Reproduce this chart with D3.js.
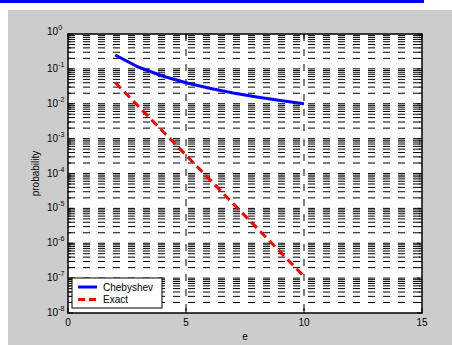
<!DOCTYPE html>
<html><head><meta charset="utf-8">
<script src="https://cdn.jsdelivr.net/npm/d3@7"></script>
<style>html,body{margin:0;padding:0;background:#fff;}svg{display:block;}</style>
</head><body>
<script>
const eValues = [2, 3, 4, 5, 6, 7, 8, 9, 10];
const chebyshev = [0.25, 0.1111, 0.0625, 0.04, 0.02778, 0.02041, 0.01563, 0.01235, 0.01];
const exact = [0.04076, 0.00823, 0.001662, 3.355e-4, 6.773e-5, 1.367e-5, 2.76e-6, 5.573e-7, 1.125e-7];
const xTicks = [0, 5, 10, 15];
const yExponents = [0, -1, -2, -3, -4, -5, -6, -7, -8];
const seriesNames = ["Chebyshev", "Exact"];

const W = 452, H = 345;
const L = 68, R = 422, T = 34, B = 313;
const svg = d3.select("body").append("svg").attr("width", W).attr("height", H);

svg.append("rect").attr("x", 0).attr("y", 0).attr("width", W).attr("height", H).attr("fill", "#fff");
svg.append("rect").attr("x", 0).attr("y", 0).attr("width", 424).attr("height", 3).attr("fill", "#0000ff");
svg.append("rect").attr("x", 8).attr("y", 10).attr("width", W - 8).attr("height", H - 10).attr("fill", "#cccccc");
svg.append("rect").attr("x", L).attr("y", T).attr("width", R - L).attr("height", B - T).attr("fill", "#fff");

const x = d3.scaleLinear().domain([0, 15]).range([L, R]);
const y = d3.scaleLog().domain([1e-8, 1]).range([B, T]);

// minor + major log values
const logVals = [];
for (let k = -8; k < 0; k++) {
  for (let m = 1; m <= 9; m++) logVals.push(m * Math.pow(10, k));
}
logVals.push(1);

const grid = svg.append("g");
logVals.forEach(v => {
  const yy = y(v);
  if (yy <= T + 0.5 || yy >= B - 0.5) return;
  grid.append("line").attr("x1", L).attr("x2", R).attr("y1", yy).attr("y2", yy)
    .attr("stroke", "#000").attr("stroke-width", 1).attr("stroke-dasharray", "7,8");
});
[5, 10].forEach(v => {
  grid.append("line").attr("x1", x(v)).attr("x2", x(v)).attr("y1", T).attr("y2", B)
    .attr("stroke", "#000").attr("stroke-width", 1).attr("stroke-dasharray", "7,8");
});

// ticks
const tk = svg.append("g").attr("stroke", "#000").attr("stroke-width", 1);
logVals.forEach(v => {
  const yy = y(v);
  const major = Math.abs(Math.log10(v) - Math.round(Math.log10(v))) < 1e-9;
  const len = major ? 5 : 3;
  tk.append("line").attr("x1", L).attr("x2", L + len).attr("y1", yy).attr("y2", yy);
  tk.append("line").attr("x1", R).attr("x2", R - len).attr("y1", yy).attr("y2", yy);
});
xTicks.forEach(v => {
  tk.append("line").attr("x1", x(v)).attr("x2", x(v)).attr("y1", B).attr("y2", B - 5);
  tk.append("line").attr("x1", x(v)).attr("x2", x(v)).attr("y1", T).attr("y2", T + 5);
});

// lines
const line = d3.line().x((d, i) => x(eValues[i])).y(d => y(d));
svg.append("path").datum(chebyshev).attr("d", line).attr("fill", "none")
  .attr("stroke", "#0000ff").attr("stroke-width", 3);
svg.append("path").datum(exact).attr("d", line).attr("fill", "none")
  .attr("stroke", "#ff0000").attr("stroke-width", 3).attr("stroke-dasharray", "8,5");

// axes box
svg.append("rect").attr("x", L).attr("y", T).attr("width", R - L).attr("height", B - T)
  .attr("fill", "none").attr("stroke", "#000").attr("stroke-width", 1.5);

const font = "Liberation Sans, Arial, sans-serif";
// x tick labels
xTicks.forEach(v => {
  svg.append("text").attr("x", x(v)).attr("y", 326).attr("text-anchor", "middle")
    .attr("font-family", font).attr("font-size", 10).attr("fill", "#000").text(v);
});
// y tick labels
yExponents.forEach(k => {
  const yy = y(Math.pow(10, k));
  const t = svg.append("text").attr("y", yy + 3).attr("font-family", font).attr("fill", "#000");
  const expStr = String(k);
  t.append("tspan").attr("x", 47).attr("font-size", 10).text("10");
  t.append("tspan").attr("dy", -5).attr("font-size", 7).text(expStr);
  if (k === 0) t.attr("transform", "translate(0,-2)");
});

// axis labels
svg.append("text").attr("x", (L + R) / 2).attr("y", 340).attr("text-anchor", "middle")
  .attr("font-family", font).attr("font-size", 10).attr("fill", "#000").text("e");
svg.append("text").attr("transform", `translate(39,${(T + B) / 2}) rotate(-90)`).attr("text-anchor", "middle")
  .attr("font-family", font).attr("font-size", 10).attr("fill", "#000").text("probability");

// legend
const lg = svg.append("g");
lg.append("rect").attr("x", 72).attr("y", 278).attr("width", 90).attr("height", 30)
  .attr("fill", "#fff").attr("stroke", "#000").attr("stroke-width", 1);
const colors = ["#0000ff", "#ff0000"];
const dashes = [null, "8,5"];
seriesNames.forEach((n, i) => {
  const yy = 287 + i * 12.5;
  const l = lg.append("line").attr("x1", 78).attr("x2", 97).attr("y1", yy).attr("y2", yy)
    .attr("stroke", colors[i]).attr("stroke-width", 3);
  if (dashes[i]) l.attr("stroke-dasharray", "7,4");
  lg.append("text").attr("x", 103).attr("y", yy + 3.5).attr("font-family", font).attr("font-size", 10)
    .attr("fill", "#000").text(n);
});
</script>
</body></html>
